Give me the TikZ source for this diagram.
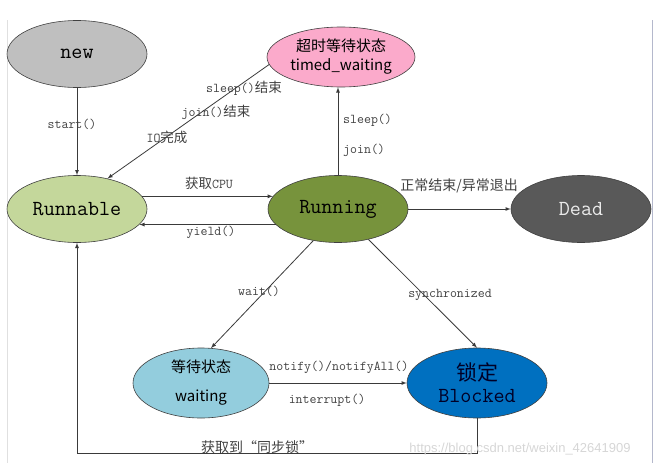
\documentclass[tikz,border=0pt]{standalone}
\usepackage{fontspec}
\usepackage{tikz}
\usetikzlibrary{shapes.geometric}
\newfontfamily\cjk{Noto Sans CJK SC}
\newfontfamily\wmfont{Liberation Sans}
\definecolor{newgray}{HTML}{BFBFBF}
\definecolor{timedpink}{HTML}{FBAACB}
\definecolor{runnablegreen}{HTML}{C4D79B}
\definecolor{runninggreen}{HTML}{77933C}
\definecolor{deadgray}{HTML}{595959}
\definecolor{waitblue}{HTML}{93CDDD}
\definecolor{blockblue}{HTML}{0070C0}
\definecolor{arrowgray}{HTML}{3A3A3A}
\definecolor{framegray}{HTML}{B4B8CC}
\tikzset{
	state/.style={ellipse, draw=black!75, line width=0.6pt, inner sep=0pt, minimum width=140pt, minimum height=67pt, align=center, font=\fontsize{21.5}{25}\ttfamily},
	arr/.style={-latex, draw=arrowgray, line width=0.8pt},
	lbl/.style={text=black!75, inner sep=0pt, font=\fontsize{13.5}{15}\ttfamily}
}
\newcommand{\zh}[1]{{\cjk #1}}

\begin{document}
\begin{tikzpicture}[x=1pt, y=-1pt]
			%%%%% START %%%%%
			
			\useasboundingbox (0, 0) rectangle (658, 463);
			\draw[line width=0.6pt, color=black!12] (7, 20) -- (7, 463);
			\draw[line width=1pt, color=framegray] (652, 20) -- (652, 463);
			
			\node[state, fill=newgray] (new) at (77, 54) {new};
			\node[state, fill=timedpink, minimum width=148pt, minimum height=60pt, font=\fontsize{15}{17}\cjk] (timed) at (341, 57) {超时等待状态\\[2pt]timed\_waiting};
			\node[state, fill=runnablegreen] (runnable) at (77, 209) {Runnable};
			\node[state, fill=runninggreen] (running) at (338, 209) {Running};
			\node[state, fill=deadgray, text=white!92!black] (dead) at (581, 209) {Dead};
			\node[state, fill=waitblue, minimum width=136pt, minimum height=70pt, font=\fontsize{15}{17}\cjk] (waiting) at (201, 383) {等待状态\\[12pt]waiting};
			\node[state, fill=blockblue, minimum height=70pt, text=black!85!blue] (blocked) at (477, 383) {{\cjk\fontsize{21}{24}\selectfont 锁定}\\[-3pt]Blocked};
			
			\draw[arr] (new) -- (runnable);
			\node[lbl] (startlbl) at (72, 124) {start()};
			
			\draw[arr] (timed.186) -- (runnable.45);
			\node[lbl] (sleepend) at (244, 88) {sleep()\zh{结束}};
			\node[lbl] (joinend) at (216, 112) {join()\zh{结束}};
			\node[lbl] (ioend) at (167, 137) {IO\zh{完成}};
			
			\draw[arr] (runnable.11) -- (running.169);
			\node[lbl] (cpulbl) at (209, 183) {\zh{获取}CPU};
			\draw[arr] (running.194) -- (runnable.-14);
			\node[lbl] (yieldlbl) at (211, 232) {yield()};
			
			\draw[arr] (running.north) -- (running.north |- timed.south);
			\node[lbl, anchor=west] (sleeplbl) at (343, 120) {sleep()};
			\node[lbl, anchor=west] (joinlbl) at (343, 150) {join()};
			
			\draw[arr] (running) -- (dead);
			\node[lbl, font=\fontsize{14}{16}\cjk] (deadlbl) at (459, 186) {正常结束/异常退出};
			
			\draw[arr] (running.232) -- (waiting.74);
			\node[lbl] (waitlbl) at (259, 291) {wait()};
			\draw[arr] (running.-45) -- (blocked.north);
			\node[lbl] (synclbl) at (450, 295) {synchronized};
			
			\draw[arr] (waiting) -- (blocked);
			\node[lbl] (notifylbl) at (339, 367) {notify()/notifyAll()};
			\node[lbl] (interruptlbl) at (327, 400) {interrupt()};
			
			\draw[arr] (blocked.south) -- ++(0, 35) -| (runnable.south);
			\node[lbl, font=\fontsize{14}{16}\cjk] (locklbl) at (257, 447) {获取到“同步锁”};
			
			\node[text=black!16, font=\fontsize{13}{15}\wmfont] (watermark) at (520, 449) {https://blog.csdn.net/weixin\_42641909};
			
			%%%%% END %%%%%
\end{tikzpicture}
\end{document}
